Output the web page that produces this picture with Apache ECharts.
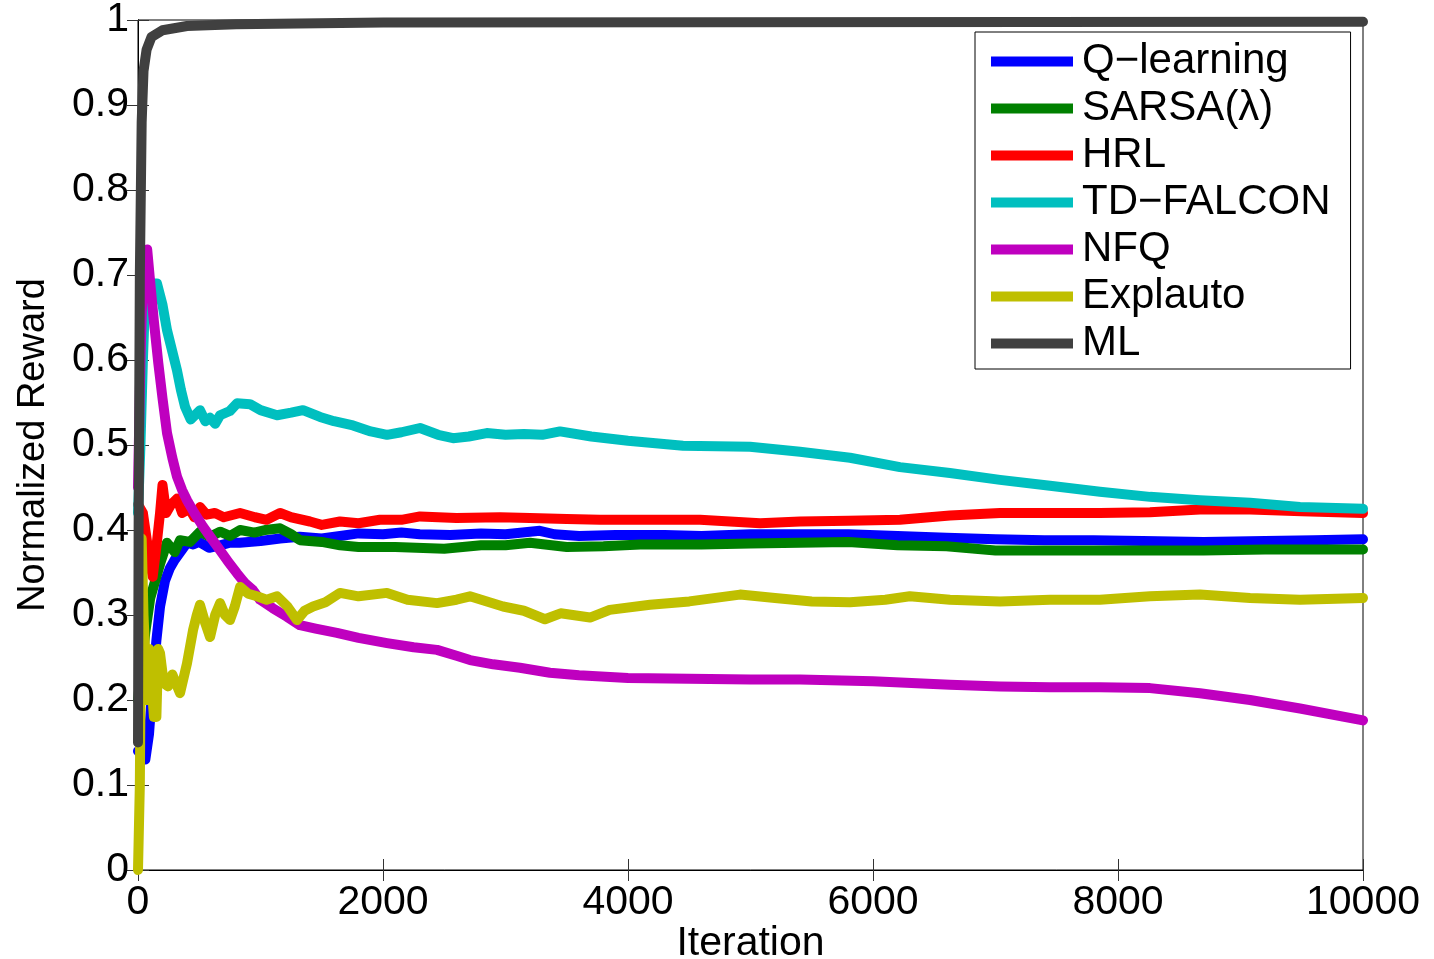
<!DOCTYPE html>
<html>
<head>
<meta charset="utf-8">
<script src="https://cdn.jsdelivr.net/npm/echarts@6/dist/echarts.min.js"></script>
<style>
html,body{margin:0;padding:0;background:#fff;}
#chart{width:1434px;height:959px;}
</style>
</head>
<body>
<div id="chart"></div>
<script>
// ---- data (iteration, normalized reward) ----
const seriesNames = ['Q\u2212learning', 'SARSA(\u03bb)', 'HRL', 'TD\u2212FALCON', 'NFQ', 'Explauto', 'ML'];
const xTicks = [0, 2000, 4000, 6000, 8000, 10000];
const yTicks = [0, 0.1, 0.2, 0.3, 0.4, 0.5, 0.6, 0.7, 0.8, 0.9, 1];

const qLearning = [[0,0.14],[60,0.13],[90,0.16],[120,0.22],[150,0.27],[180,0.31],[220,0.34],[260,0.355],[300,0.365],[350,0.375],[400,0.385],[450,0.383],[500,0.386],[580,0.379],[670,0.382],[750,0.385],[830,0.385],[1000,0.387],[1160,0.39],[1320,0.392],[1500,0.39],[1650,0.393],[1800,0.396],[2000,0.395],[2150,0.397],[2300,0.395],[2550,0.394],[2800,0.396],[3000,0.395],[3280,0.399],[3400,0.395],[3600,0.393],[3900,0.394],[4300,0.394],[4600,0.393],[5000,0.395],[5400,0.395],[5800,0.395],[6200,0.393],[6600,0.391],[7000,0.389],[7400,0.388],[7800,0.388],[8200,0.387],[8700,0.386],[9200,0.387],[9600,0.388],[10000,0.389]];

const sarsa = [[0,0.2],[60,0.28],[100,0.32],[140,0.34],[180,0.36],[236,0.385],[300,0.374],[343,0.388],[424,0.386],[506,0.398],[588,0.392],[670,0.398],[750,0.393],[833,0.4],[950,0.397],[1037,0.4],[1160,0.402],[1250,0.395],[1322,0.388],[1500,0.386],[1650,0.382],[1800,0.38],[2100,0.38],[2500,0.378],[2800,0.382],[3000,0.382],[3200,0.385],[3500,0.38],[3800,0.381],[4100,0.383],[4600,0.383],[5000,0.384],[5400,0.385],[5800,0.386],[6200,0.382],[6600,0.381],[7000,0.376],[7400,0.376],[7800,0.376],[8200,0.376],[8700,0.376],[9200,0.377],[9600,0.377],[10000,0.377]];

const hrl = [[0,0.43],[40,0.42],[80,0.38],[120,0.345],[150,0.38],[180,0.42],[200,0.453],[230,0.42],[270,0.43],[320,0.437],[360,0.42],[420,0.425],[460,0.415],[506,0.427],[560,0.418],[628,0.42],[700,0.415],[833,0.42],[955,0.415],[1050,0.412],[1160,0.42],[1250,0.415],[1404,0.41],[1500,0.406],[1649,0.41],[1800,0.408],[1975,0.412],[2150,0.412],[2302,0.416],[2600,0.414],[2955,0.415],[3200,0.414],[3500,0.413],[3771,0.412],[4200,0.412],[4588,0.412],[5078,0.408],[5404,0.41],[5800,0.411],[6220,0.412],[6628,0.417],[7037,0.42],[7445,0.42],[7853,0.42],[8261,0.421],[8669,0.424],[9078,0.424],[9500,0.422],[10000,0.42]];

const tdFalcon = [[0,0.42],[20,0.5],[40,0.6],[60,0.68],[100,0.69],[155,0.69],[200,0.665],[237,0.635],[280,0.61],[318,0.588],[350,0.565],[384,0.545],[430,0.53],[465,0.535],[506,0.541],[550,0.528],[588,0.532],[630,0.525],[670,0.535],[750,0.54],[808,0.549],[914,0.548],[1000,0.541],[1135,0.535],[1250,0.538],[1347,0.541],[1486,0.533],[1600,0.528],[1755,0.523],[1900,0.516],[2033,0.512],[2150,0.515],[2302,0.52],[2450,0.512],[2572,0.508],[2700,0.51],[2847,0.514],[3000,0.512],[3150,0.513],[3300,0.512],[3445,0.516],[3700,0.51],[4000,0.505],[4449,0.499],[4996,0.498],[5404,0.492],[5812,0.485],[6220,0.474],[6628,0.467],[7037,0.459],[7445,0.452],[7853,0.445],[8261,0.439],[8669,0.435],[9078,0.432],[9486,0.427],[10000,0.425]];

const nfq = [[0,0.45],[20,0.6],[40,0.7],[75,0.73],[98,0.694],[130,0.645],[166,0.596],[200,0.555],[237,0.514],[280,0.485],[318,0.463],[360,0.447],[400,0.435],[460,0.42],[531,0.404],[600,0.39],[670,0.376],[740,0.362],[808,0.349],[870,0.338],[940,0.329],[996,0.318],[1100,0.308],[1216,0.298],[1322,0.288],[1450,0.284],[1624,0.279],[1800,0.273],[2033,0.267],[2250,0.262],[2441,0.259],[2600,0.252],[2710,0.247],[2900,0.242],[3118,0.238],[3363,0.232],[3600,0.229],[4000,0.226],[4500,0.225],[5000,0.224],[5404,0.224],[6000,0.222],[6628,0.218],[7037,0.216],[7445,0.215],[7853,0.215],[8261,0.214],[8669,0.208],[9078,0.2],[9486,0.19],[10000,0.176]];

const explauto = [[0,0],[15,0.1],[30,0.39],[45,0.3],[60,0.25],[75,0.2],[90,0.26],[110,0.22],[130,0.18],[150,0.18],[165,0.26],[180,0.255],[210,0.22],[245,0.216],[280,0.23],[343,0.208],[400,0.243],[449,0.282],[480,0.3],[506,0.312],[550,0.29],[588,0.274],[630,0.3],[670,0.314],[710,0.3],[751,0.294],[790,0.31],[833,0.333],[900,0.325],[971,0.322],[1050,0.318],[1135,0.322],[1220,0.31],[1298,0.294],[1360,0.305],[1429,0.31],[1530,0.315],[1649,0.326],[1800,0.322],[2033,0.326],[2200,0.318],[2441,0.314],[2600,0.318],[2710,0.322],[2980,0.31],[3150,0.305],[3322,0.295],[3450,0.302],[3690,0.297],[3850,0.306],[4180,0.312],[4500,0.316],[4914,0.324],[5200,0.32],[5500,0.316],[5812,0.315],[6100,0.318],[6300,0.322],[6628,0.318],[7037,0.316],[7445,0.318],[7853,0.318],[8261,0.322],[8669,0.324],[9078,0.32],[9486,0.318],[10000,0.32]];

const ml = [[0,0.15],[5,0.4],[15,0.7],[30,0.88],[45,0.94],[70,0.965],[110,0.98],[200,0.988],[400,0.993],[800,0.995],[2000,0.997],[10000,0.998]];

const seriesData = [qLearning, sarsa, hrl, tdFalcon, nfq, explauto, ml];
const colors = ['#0000ff', '#008000', '#ff0000', '#00bfbf', '#bf00bf', '#bfbf00', '#404040'];

const FONT = 'Liberation Sans';
const chart = echarts.init(document.getElementById('chart'), null, {renderer: 'canvas'});

const tickStyle = {show: true, inside: true, length: 11, lineStyle: {color: '#333', width: 1}};
const axisLineStyle = {show: true, lineStyle: {color: '#000', width: 1}};

chart.setOption({
  animation: false,
  backgroundColor: '#fff',
  color: colors,
  grid: {left: 138, right: 71, top: 20, bottom: 89, outerBoundsMode: 'none', containLabel: false,
         show: true, borderColor: '#000', borderWidth: 1, backgroundColor: 'transparent'},
  legend: {
    orient: 'vertical',
    left: 975, top: 32,
    data: seriesNames,
    icon: 'rect',
    itemWidth: 82, itemHeight: 10,
    itemGap: 0,
    padding: [6, 20, 2, 16],
    backgroundColor: '#fff',
    borderColor: '#000', borderWidth: 1, borderRadius: 0,
    textStyle: {fontFamily: FONT, fontSize: 42, color: '#000', lineHeight: 47, padding: [0, 0, 0, 4]}
  },
  xAxis: [{
    type: 'value', min: 0, max: 10000, interval: 2000, position: 'bottom',
    name: 'Iteration', nameLocation: 'middle', nameGap: 53, nameMoveOverlap: false,
    nameTextStyle: {fontFamily: FONT, fontSize: 41, color: '#000', verticalAlign: 'top'},
    axisLine: axisLineStyle, axisTick: tickStyle, splitLine: {show: false},
    axisLabel: {fontFamily: FONT, fontSize: 41, color: '#000', margin: 12, formatter: v => String(v)}
  }, {
    type: 'value', min: 0, max: 10000, interval: 2000, position: 'top',
    axisLine: axisLineStyle, axisTick: tickStyle, splitLine: {show: false}, axisLabel: {show: false}
  }],
  yAxis: [{
    type: 'value', min: 0, max: 1, interval: 0.1, position: 'left',
    name: 'Normalized Reward', nameLocation: 'middle', nameGap: 85, nameMoveOverlap: false,
    nameTextStyle: {fontFamily: FONT, fontSize: 38, color: '#000'},
    axisLine: axisLineStyle, axisTick: tickStyle, splitLine: {show: false},
    axisLabel: {fontFamily: FONT, fontSize: 41, color: '#000', margin: 9, formatter: v => String(Math.round(v * 10) / 10)}
  }, {
    type: 'value', min: 0, max: 1, interval: 0.1, position: 'right',
    axisLine: axisLineStyle, axisTick: tickStyle, splitLine: {show: false}, axisLabel: {show: false}
  }],
  series: seriesNames.map((name, i) => ({
    name: name,
    type: 'line',
    data: seriesData[i],
    showSymbol: false,
    symbol: 'none',
    clip: true,
    lineStyle: {width: 10, color: colors[i], cap: 'round', join: 'round'},
    itemStyle: {color: colors[i]},
    emphasis: {disabled: true},
    z: 2 + i
  }))
});
</script>
</body>
</html>
